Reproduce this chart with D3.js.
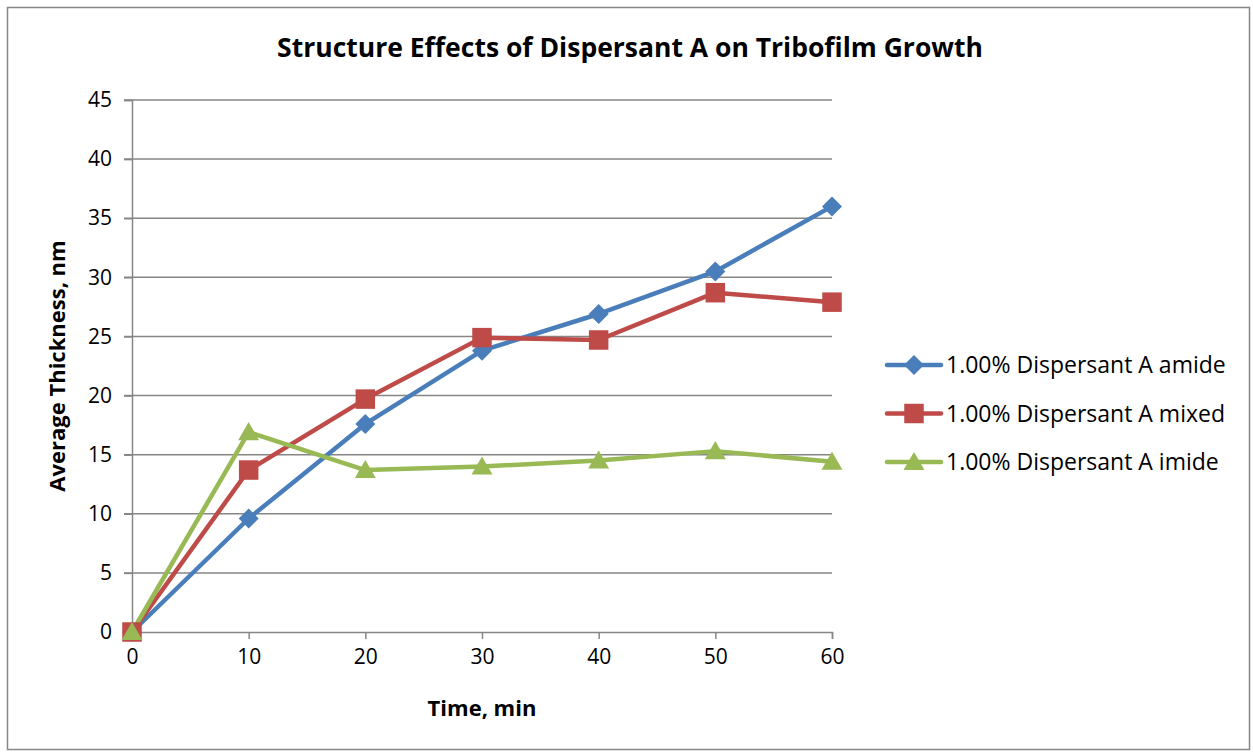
<!DOCTYPE html>
<html lang="en">
<head>
<meta charset="UTF-8">
<script src="https://cdn.jsdelivr.net/npm/d3@7/dist/d3.min.js"></script>
<title>Structure Effects of Dispersant A on Tribofilm Growth</title>
<style>
  body { margin: 0; background: #fff; }
  text { font-family: 'Open Sans', 'Liberation Sans', sans-serif; fill: #000; }
  .tick_text { font-size: 21px; }
  .axis_title { font-size: 22px; font-weight: bold; }
  .legend_text { font-size: 23px; }
</style>
</head>
<body>
<div id="chart"></div>
<script>
  // chart data
  var times = [0, 10, 20, 30, 40, 50, 60];
  var amide = [0, 9.6, 17.6, 23.8, 26.9, 30.5, 36.0];
  var mixed = [0, 13.7, 19.7, 24.9, 24.7, 28.7, 27.9];
  var imide = [0, 16.9, 13.7, 14.0, 14.5, 15.3, 14.4];
  var seriesNames = ["1.00% Dispersant A amide", "1.00% Dispersant A mixed", "1.00% Dispersant A imide"];
  var yTicks = [0, 5, 10, 15, 20, 25, 30, 35, 40, 45];
  var xTicks = [0, 10, 20, 30, 40, 50, 60];

  var W = 1253, H = 753;
  var plotLeft = 132, plotRight = 832, plotTop = 100, plotBottom = 632;
  var grey = "#868686";

  // excel style markers: diamond is a square turned 45 degrees
  var series = [
    { name: seriesNames[0], values: amide, color: "#4A7EBB", shape: d3.symbolSquare, size: 200, rot: 45, dy: 0 },
    { name: seriesNames[1], values: mixed, color: "#BE4B48", shape: d3.symbolSquare, size: 380, rot: 0, dy: 0 },
    { name: seriesNames[2], values: imide, color: "#98B954", shape: d3.symbolTriangle, size: 190, rot: 0, dy: 2 }
  ];

  var svg = d3.select("#chart").append("svg")
    .attr("width", W)
    .attr("height", H);

  // outer frame
  svg.append("rect")
    .attr("x", 7.5).attr("y", 7.5)
    .attr("width", W - 11).attr("height", H - 11)
    .attr("fill", "#fff")
    .attr("stroke", grey)
    .attr("stroke-width", 1.5);

  var x = d3.scaleLinear().domain([0, 60]).range([plotLeft, plotRight]);
  var y = d3.scaleLinear().domain([0, 45]).range([plotBottom, plotTop]);

  // gridlines
  svg.append("g")
    .selectAll("line")
    .data(yTicks.filter(function(d) { return d > 0; }))
    .enter().append("line")
    .attr("x1", plotLeft - 8).attr("x2", plotRight)
    .attr("y1", function(d) { return y(d); })
    .attr("y2", function(d) { return y(d); })
    .attr("stroke", grey).attr("stroke-width", 1.5);

  // y axis
  var yAxis = svg.append("g")
    .attr("transform", "translate(" + plotLeft + ",0)")
    .call(d3.axisLeft(y).tickValues(yTicks).tickSize(8).tickPadding(12));
  yAxis.select(".domain").attr("stroke", grey).attr("stroke-width", 1.5);
  yAxis.selectAll(".tick line").attr("stroke", grey).attr("stroke-width", 1.5);
  yAxis.selectAll(".tick text").attr("class", "tick_text").attr("fill", "#000");
  yAxis.attr("font-family", null).attr("font-size", null);

  // x axis
  var xAxis = svg.append("g")
    .attr("transform", "translate(0," + plotBottom + ")")
    .call(d3.axisBottom(x).tickValues(xTicks).tickSize(7).tickPadding(10));
  xAxis.select(".domain").attr("stroke", grey).attr("stroke-width", 1.5);
  xAxis.selectAll(".tick line").attr("stroke", grey).attr("stroke-width", 1.5);
  xAxis.selectAll(".tick text").attr("class", "tick_text").attr("fill", "#000");
  xAxis.attr("font-family", null).attr("font-size", null);

  // lines and markers
  var line = d3.line()
    .x(function(d, i) { return x(times[i]); })
    .y(function(d) { return y(d); });

  series.forEach(function(s) {
    svg.append("path")
      .datum(s.values)
      .attr("d", line)
      .attr("fill", "none")
      .attr("stroke", s.color)
      .attr("stroke-width", 4.5)
      .attr("stroke-linejoin", "round");
  });

  series.forEach(function(s) {
    svg.append("g").selectAll("path")
      .data(s.values)
      .enter().append("path")
      .attr("transform", function(d, i) {
        return "translate(" + x(times[i]) + "," + (y(d) + s.dy) + ") rotate(" + s.rot + ")";
      })
      .attr("d", d3.symbol().type(s.shape).size(s.size))
      .attr("fill", s.color);
  });

  // title
  svg.append("text")
    .attr("x", 630).attr("y", 57)
    .attr("text-anchor", "middle")
    .style("font-size", "26.5px")
    .style("font-weight", "bold")
    .text("Structure Effects of Dispersant A on Tribofilm Growth");

  // axis titles
  svg.append("text")
    .attr("class", "axis_title")
    .attr("x", 482).attr("y", 716)
    .attr("text-anchor", "middle")
    .text("Time, min");

  svg.append("text")
    .attr("class", "axis_title")
    .attr("transform", "translate(65," + ((plotTop + plotBottom) / 2) + ") rotate(-90)")
    .attr("text-anchor", "middle")
    .text("Average Thickness, nm");

  // legend
  var legend = svg.append("g").attr("transform", "translate(887,365)");
  series.forEach(function(s, i) {
    var g = legend.append("g").attr("transform", "translate(0," + (i * 48.5) + ")");
    g.append("line")
      .attr("x1", 0).attr("x2", 54)
      .attr("stroke", s.color).attr("stroke-width", 4.5)
      .attr("stroke-linecap", "round");
    g.append("path")
      .attr("transform", "translate(27," + s.dy + ") rotate(" + s.rot + ")")
      .attr("d", d3.symbol().type(s.shape).size(s.size))
      .attr("fill", s.color);
    g.append("text")
      .attr("class", "legend_text")
      .attr("x", 59).attr("y", 8)
      .text(s.name);
  });
</script>
</body>
</html>
